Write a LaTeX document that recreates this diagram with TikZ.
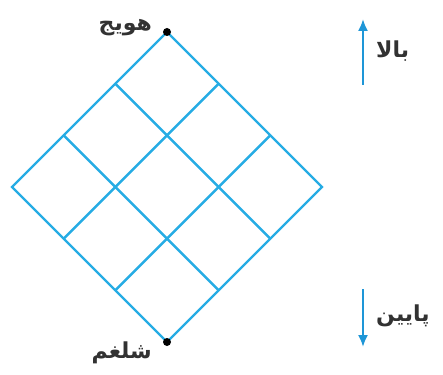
\documentclass[tikz,border=0pt]{standalone}
\usepackage{fontspec}
\usepackage{tikz}
\usetikzlibrary{arrows.meta, positioning, calc}
\TeXXeTstate=1
\newfontfamily\arabicfont[Script=Arabic]{DejaVu Sans}
\definecolor{gridc}{RGB}{38,172,228}
\definecolor{arrowc}{RGB}{30,150,215}
\definecolor{textc}{RGB}{50,50,50}

\begin{document}
\begin{tikzpicture}[x=1pt,y=-1pt,
	gridline/.style={gridc,line width=2.4pt,line join=miter},
	lbl/.style={font=\arabicfont\bfseries\fontsize{22}{26}\selectfont,text=textc,inner sep=1pt},
	dirarrow/.style={arrowc,line width=2pt,-{Latex[length=12pt,width=10pt]}}]
			\useasboundingbox (0,0) rectangle (443,374);
			% corners of the diamond
			\coordinate (top) at (167,32);
			\coordinate (right) at (322,187);
			\coordinate (bot) at (167,342);
			\coordinate (left) at (12,187);
			% grid lines
			\foreach \i in {1,2} {
				\draw[gridline] ($(top)!\i/3!(left)$) -- ($(right)!\i/3!(bot)$);
				\draw[gridline] ($(top)!\i/3!(right)$) -- ($(left)!\i/3!(bot)$);
			}
			% outline
			\draw[gridline] (top) -- (right) -- (bot) -- (left) -- cycle;
			% end points
			\fill (top) circle (4pt);
			\fill (bot) circle (4pt);
			% labels
			\node[lbl,anchor=east] (carrot) at (153,28) {\beginR هویج\endR};
			\node[lbl,anchor=east] (turnip) at (153,353) {\beginR شلغم\endR};
			% direction arrows
			\coordinate (upS) at (363,85);
			\coordinate (upE) at (363,19);
			\draw[dirarrow] (upS) -- (upE);
			\node[lbl,anchor=west] (up) at (375,51) {\beginR بالا\endR};
			\coordinate (dnS) at (363,289);
			\coordinate (dnE) at (363,347);
			\draw[dirarrow] (dnS) -- (dnE);
			\node[lbl,anchor=west] (down) at (375,316) {\beginR پایین\endR};
		\end{tikzpicture}
\end{document}
